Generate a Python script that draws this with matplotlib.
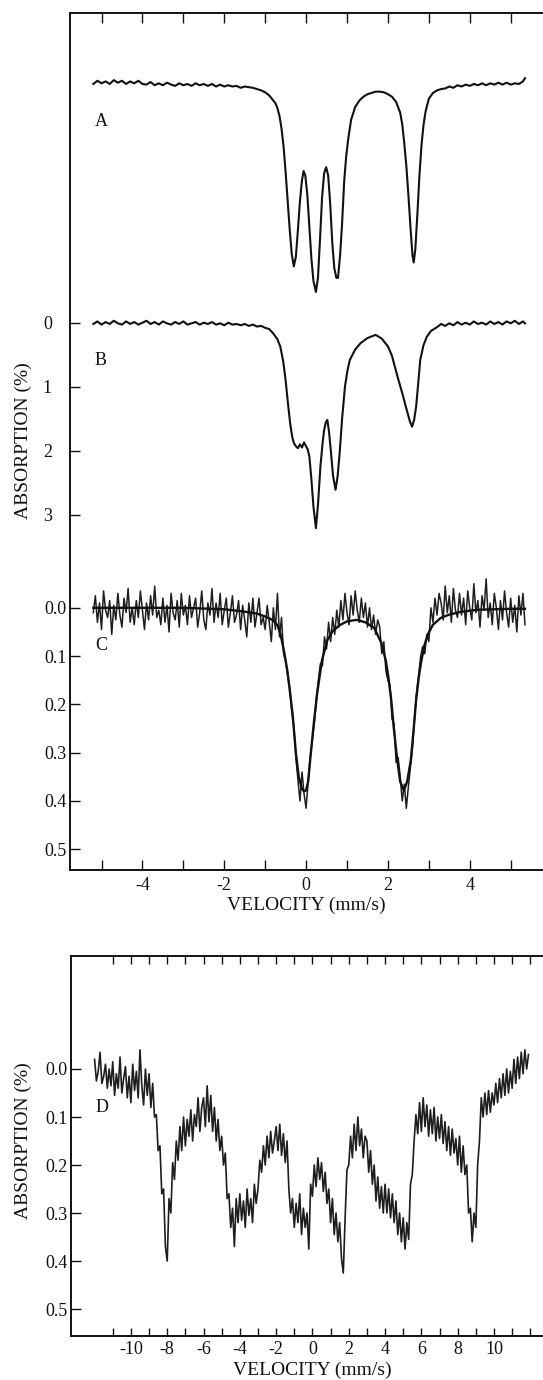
import numpy as np
import matplotlib
matplotlib.use("Agg")
import matplotlib.pyplot as plt

plt.rcParams['font.family'] = ['Liberation Serif', 'DejaVu Serif']

# ---------------- data (absorption) ----------------
# Spectrum A (%, same scale as B), pairs (velocity mm/s, absorption %)
spec_A = [(-5.2,0.02),(-5.1,-0.03),(-5.0,0.01),(-4.9,-0.02),(-4.8,0.02),(-4.7,-0.04),(-4.6,0.00),
          (-4.5,-0.03),(-4.4,0.02),(-4.3,-0.02),(-4.2,0.01),(-4.1,-0.03),(-4.0,0.02),(-3.9,0.03),
          (-3.8,-0.01),(-3.7,0.04),(-3.6,0.01),(-3.5,0.04),(-3.4,0.00),(-3.3,0.03),(-3.2,0.05),
          (-3.1,0.01),(-3.0,0.04),(-2.9,0.02),(-2.8,0.05),(-2.7,0.01),(-2.6,0.04),(-2.5,0.02),
          (-2.4,0.05),(-2.3,0.02),(-2.2,0.06),(-2.1,0.03),(-2.0,0.06),(-1.9,0.04),(-1.8,0.06),
          (-1.7,0.05),(-1.6,0.08),(-1.5,0.06),(-1.4,0.07),(-1.3,0.08),(-1.2,0.10),(-1.1,0.12),
          (-1.0,0.15),(-0.9,0.20),(-0.8,0.28),(-0.75,0.32),(-0.7,0.40),(-0.65,0.52),(-0.6,0.72),
          (-0.55,1.0),(-0.5,1.4),(-0.45,1.85),(-0.4,2.3),(-0.35,2.68),(-0.3,2.87),(-0.25,2.72),
          (-0.2,2.30),(-0.15,1.85),(-0.1,1.52),(-0.06,1.38),(-0.02,1.45),(0.03,1.75),(0.08,2.25),
          (0.13,2.75),(0.18,3.10),(0.24,3.27),(0.29,3.05),(0.34,2.45),(0.39,1.80),(0.44,1.42),
          (0.49,1.32),(0.54,1.45),(0.59,1.90),(0.64,2.50),(0.69,2.90),(0.74,3.05),(0.78,3.05),
          (0.83,2.70),(0.88,2.2),(0.93,1.55),(0.98,1.15),(1.03,0.88),(1.1,0.58),(1.2,0.38),
          (1.3,0.28),(1.4,0.22),(1.5,0.18),(1.6,0.16),(1.7,0.14),(1.8,0.14),(1.9,0.15),(2.0,0.18),
          (2.1,0.22),(2.2,0.30),(2.3,0.47),(2.35,0.65),(2.4,0.95),(2.45,1.3),(2.5,1.75),(2.55,2.25),
          (2.6,2.70),(2.63,2.81),(2.67,2.60),(2.72,2.05),(2.77,1.45),(2.82,0.98),(2.87,0.66),
          (2.92,0.45),(3.0,0.25),(3.1,0.16),(3.2,0.12),(3.3,0.10),(3.4,0.09),(3.5,0.06),(3.6,0.08),
          (3.7,0.04),(3.8,0.06),(3.9,0.03),(4.0,0.05),(4.1,0.02),(4.2,0.04),(4.3,0.01),(4.4,0.04),
          (4.5,0.01),(4.6,0.03),(4.7,0.00),(4.8,0.03),(4.9,0.00),(5.0,0.03),(5.1,0.01),(5.2,0.02),
          (5.3,-0.02),(5.35,-0.07)]

# Spectrum B (%)
spec_B = [(-5.2,0.02),(-5.1,-0.02),(-5.0,0.03),(-4.9,-0.01),(-4.8,0.02),(-4.7,-0.03),(-4.6,0.01),
          (-4.5,0.03),(-4.4,-0.02),(-4.3,0.02),(-4.2,-0.01),(-4.1,0.03),(-4.0,0.0),(-3.9,-0.03),
          (-3.8,0.02),(-3.7,-0.01),(-3.6,0.03),(-3.5,-0.02),(-3.4,0.01),(-3.3,0.03),(-3.2,-0.01),
          (-3.1,0.02),(-3.0,-0.02),(-2.9,0.03),(-2.8,0.01),(-2.7,-0.01),(-2.6,0.03),(-2.5,0.0),
          (-2.4,0.02),(-2.3,-0.01),(-2.2,0.03),(-2.1,0.01),(-2.0,0.04),(-1.9,0.0),(-1.8,0.03),
          (-1.7,0.02),(-1.6,0.04),(-1.5,0.02),(-1.4,0.05),(-1.3,0.03),(-1.2,0.06),(-1.1,0.05),
          (-1.0,0.08),(-0.9,0.10),(-0.8,0.17),(-0.7,0.26),(-0.63,0.375),(-0.56,0.6),(-0.5,0.9),
          (-0.45,1.22),(-0.39,1.57),(-0.34,1.78),(-0.30,1.88),(-0.25,1.93),(-0.2,1.96),(-0.15,1.90),
          (-0.1,1.95),(-0.05,1.87),(-0.01,1.92),(0.04,1.98),(0.08,2.09),(0.13,2.45),(0.18,2.875),
          (0.24,3.21),(0.29,2.85),(0.35,2.25),(0.40,1.90),(0.44,1.68),(0.48,1.56),(0.52,1.52),
          (0.56,1.70),(0.61,2.04),(0.66,2.40),(0.72,2.61),(0.77,2.40),(0.82,2.04),(0.88,1.50),
          (0.95,1.0),(1.01,0.75),(1.07,0.58),(1.2,0.42),(1.33,0.32),(1.5,0.24),(1.7,0.19),
          (1.85,0.25),(2.0,0.37),(2.1,0.52),(2.17,0.69),(2.26,0.9),(2.35,1.1),(2.42,1.27),
          (2.48,1.41),(2.54,1.55),(2.59,1.625),(2.64,1.52),(2.69,1.31),(2.74,0.95),(2.79,0.58),
          (2.87,0.35),(2.95,0.22),(3.05,0.13),(3.2,0.07),(3.3,0.02),(3.4,0.05),(3.5,0.01),
          (3.6,0.04),(3.7,-0.01),(3.8,0.03),(3.9,0.0),(4.0,0.03),(4.1,-0.02),(4.2,0.02),(4.3,0.0),
          (4.4,0.03),(4.5,-0.02),(4.6,0.02),(4.7,-0.01),(4.8,0.03),(4.9,-0.02),(5.0,0.01),
          (5.1,-0.03),(5.2,0.02),(5.3,-0.02),(5.35,0.01)]

# Spectrum C: fitted curve (%)
fit_C = [(-5.2,0.0),(-3.0,0.0),(-2.0,0.003),(-1.5,0.008),(-1.2,0.012),(-1.0,0.018),(-0.8,0.026),
         (-0.7,0.036),(-0.63,0.053),(-0.55,0.085),(-0.46,0.129),(-0.4,0.17),(-0.33,0.22),
         (-0.25,0.30),(-0.18,0.35),(-0.1,0.375),(-0.05,0.38),(0.0,0.378),(0.05,0.36),(0.1,0.315),
         (0.18,0.246),(0.27,0.177),(0.39,0.108),(0.52,0.067),(0.65,0.048),(0.82,0.036),
         (1.0,0.028),(1.24,0.025),(1.45,0.03),(1.67,0.042),(1.84,0.073),(1.95,0.11),(2.01,0.143),
         (2.08,0.19),(2.14,0.246),(2.22,0.31),(2.3,0.36),(2.39,0.378),(2.47,0.36),(2.56,0.315),
         (2.63,0.25),(2.69,0.19),(2.76,0.14),(2.82,0.108),(2.9,0.075),(2.99,0.053),(3.1,0.035),
         (3.29,0.021),(3.5,0.014),(3.8,0.008),(4.2,0.004),(4.6,0.003),(5.0,0.002),(5.35,0.002)]

# Spectrum C: measured channels, 0.05 mm/s apart starting at -5.2 (units of 0.001 %)
C_start, C_step = -5.2, 0.05
data_C_milli = [10, -25, 30, -10, 45, -35, 5, 20, -15, 55,
                -5, 25, -30, 15, 40, -20, 10, -40, 30, 0,
                35, -15, 20, -35, 5, 45, -10, 25, -25, 15,
                -45, 20, 5, 35, -20, 30, -5, 50, -30, 10,
                25, -15, 40, -30, 15, -5, 35, -25, 20, 0,
                -20, 40, 10, -35, 25, 45, -10, 15, -40, 30,
                -10, 20, -30, 35, 5, -20, 40, 10, -25, 30,
                15, -15, 45, -5, 25, 60, -10, 30, -20, 40,
                10, -20, 35, 20, 45, -5, 30, 70, 0, 45,
                -30, 60, 20, 95, 110, 140, 165, 215, 245, 310,
                355, 400, 340, 385, 415, 360, 310, 275, 240, 190,
                150, 115, 120, 60, 85, 30, 70, 20, 55, 5,
                40, -15, 25, -30, 10, 35, -25, 15, -35, 5,
                30, -20, 20, -10, 40, 0, 45, 15, 55, 25,
                40, 95, 70, 130, 150, 160, 230, 240, 320, 310,
                350, 400, 365, 415, 370, 330, 290, 230, 175, 140,
                100, 80, 95, 55, 70, 0, 30, -20, 15, -30,
                -10, 25, -45, 10, -25, 30, -40, 5, 20, -30,
                15, -20, 35, -35, 0, 25, -50, 10, -15, 40,
                -25, 5, -60, 20, -10, 35, -30, 0, 45, -15,
                25, -35, 10, 40, -20, 30, -5, 50, -25, 15, -30, 35]

# Spectrum D: measured channels, 0.1 mm/s apart starting at -12.0 (units of 0.001 %)
D_start, D_step = -12.0, 0.1
data_D_milli = [-20, 25, 5, -35, 30, 15, -10, 40, 0, 35,
                -15, 55, 10, 40, -25, 50, 20, -5, 60, 15,
                70, -10, 45, 5, 60, -40, 35, 75, 0, 55,
                10, 80, 30, 100, 95, 170, 160, 260, 250, 370,
                400, 270, 300, 195, 230, 150, 190, 120, 170, 100,
                160, 105, 140, 85, 150, 95, 120, 60, 130, 80,
                60, 120, 35, 110, 55, 130, 80, 150, 105, 170,
                140, 200, 175, 270, 260, 330, 290, 370, 270, 320,
                260, 315, 275, 330, 250, 305, 270, 320, 240, 280,
                250, 190, 215, 160, 200, 140, 185, 130, 175, 150,
                120, 170, 115, 180, 135, 195, 150, 250, 300, 270,
                330, 280, 320, 260, 345, 290, 330, 300, 375, 240,
                265, 200, 245, 185, 230, 195, 255, 215, 280, 250,
                320, 270, 345, 300, 360, 320, 395, 425, 310, 210,
                200, 140, 185, 115, 170, 100, 160, 125, 185, 140,
                150, 215, 170, 240, 200, 275, 225, 290, 245, 300,
                240, 300, 250, 310, 260, 320, 275, 345, 300, 360,
                310, 375, 320, 355, 240, 220, 150, 95, 135, 70,
                130, 60, 120, 75, 140, 85, 135, 80, 150, 100,
                145, 95, 155, 110, 170, 120, 180, 125, 175, 145,
                200, 140, 215, 160, 220, 200, 300, 290, 360, 300,
                330, 200, 150, 60, 100, 50, 95, 45, 90, 50,
                75, 30, 70, 20, 60, 10, 55, 0, 50, 5,
                40, -20, 30, -25, 20, -35, 10, -40, 0, -30]

top_xticks = list(range(-5, 6))
top_xticklabels = ['' if t % 2 else str(t) for t in top_xticks]
B_yticks = [0, 1, 2, 3]
C_yticks = [0.0, 0.1, 0.2, 0.3, 0.4, 0.5]
D_xticks = list(range(-11, 13))
D_xticklabels = [str(t) if (t % 2 == 0 and abs(t) <= 10) else '' for t in D_xticks]
D_yticks = [0.0, 0.1, 0.2, 0.3, 0.4, 0.5]

# ---------------- figure ----------------
W, H = 543, 1380
fig = plt.figure(figsize=(W / 100, H / 100), dpi=100)

def rect(l, t, r, b):
    return [l / W, 1 - b / H, (r - l) / W, (b - t) / H]

TOP = rect(70, 13.3, 543, 870.3)
BOT = rect(71, 956, 543, 1335.7)
XLIM_TOP = (-5.77, 5.79)
INK = '#111111'
TICK_FS = 13

axC = fig.add_axes(TOP)
axB = fig.add_axes(TOP)
axA = fig.add_axes(TOP)

for ax in (axA, axB):
    ax.patch.set_visible(False)
    for s in ax.spines.values():
        s.set_visible(False)
    ax.tick_params(bottom=False, top=False, labelbottom=False, right=False)
    ax.set_xlim(XLIM_TOP)
    ax.set_xticks([])

# A
vA, aA = zip(*spec_A)
axA.plot(vA, aA, color=INK, lw=1.5)
axA.set_ylim(12.306, -1.084)
axA.set_yticks([])

# B
vB, aB = zip(*spec_B)
axB.plot(vB, aB, color=INK, lw=1.5)
axB.set_ylim(8.556, -4.834)
axB.set_yticks(B_yticks)
axB.set_yticklabels([str(t) for t in B_yticks])
axB.tick_params(axis='y', direction='in', length=7, width=1.0, pad=13, labelsize=TICK_FS,
                left=True, colors=INK)

# C
vC_data = C_start + C_step * np.arange(len(data_C_milli))
axC.plot(vC_data, np.array(data_C_milli) / 1000.0, color='#1e1e1e', lw=1.1)
vCf, aCf = zip(*fit_C)
axC.plot(vCf, aCf, color=INK, lw=1.7)
axC.set_xlim(XLIM_TOP)
axC.set_ylim(0.5435, -1.231)
axC.set_yticks(C_yticks)
axC.set_yticklabels(['%.1f' % t for t in C_yticks])
axC.set_xticks(top_xticks)
axC.set_xticklabels(top_xticklabels)
axC.tick_params(axis='both', direction='in', length=7, width=1.0, labelsize=TICK_FS, colors=INK)
axC.tick_params(axis='y', pad=2.5)
axC.tick_params(axis='x', top=True, pad=5)
axC.spines['right'].set_visible(False)
for s in ('left', 'top', 'bottom'):
    axC.spines[s].set_linewidth(1.4)
    axC.spines[s].set_color(INK)

# D
axD = fig.add_axes(BOT)
vD = D_start + D_step * np.arange(len(data_D_milli))
axD.plot(vD, np.array(data_D_milli) / 1000.0, color='#1e1e1e', lw=1.2)
axD.set_xlim(-13.3, 12.7)
axD.set_ylim(0.5556, -0.2354)
axD.set_xticks(D_xticks)
axD.set_xticklabels(D_xticklabels)
axD.set_yticks(D_yticks)
axD.set_yticklabels(['%.1f' % t for t in D_yticks])
axD.tick_params(axis='both', direction='in', length=5.5, width=1.0, labelsize=TICK_FS, colors=INK)
axD.tick_params(axis='y', pad=2.5, length=7)
axD.tick_params(axis='x', top=True, pad=4)
axD.spines['right'].set_visible(False)
for s in ('left', 'top', 'bottom'):
    axD.spines[s].set_linewidth(1.4)
    axD.spines[s].set_color(INK)

# text
def ftext(x, y, s, **kw):
    fig.text(x / W, 1 - y / H, s, color=INK, **kw)

ftext(95, 122, 'A', fontsize=13, ha='left', va='center')
ftext(95, 360, 'B', fontsize=13, ha='left', va='center')
ftext(95, 646, 'C', fontsize=13, ha='left', va='center')
ftext(96, 1107, 'D', fontsize=13, ha='left', va='center')
ftext(23, 441, 'ABSORPTION (%)', fontsize=14, rotation=90, ha='center', va='center')
ftext(23, 1141, 'ABSORPTION (%)', fontsize=14, rotation=90, ha='center', va='center')
ftext(306, 905, 'VELOCITY (mm/s)', fontsize=14, ha='center', va='center')
ftext(312, 1370, 'VELOCITY (mm/s)', fontsize=14, ha='center', va='center')

fig.savefig('out.png', dpi=100)
